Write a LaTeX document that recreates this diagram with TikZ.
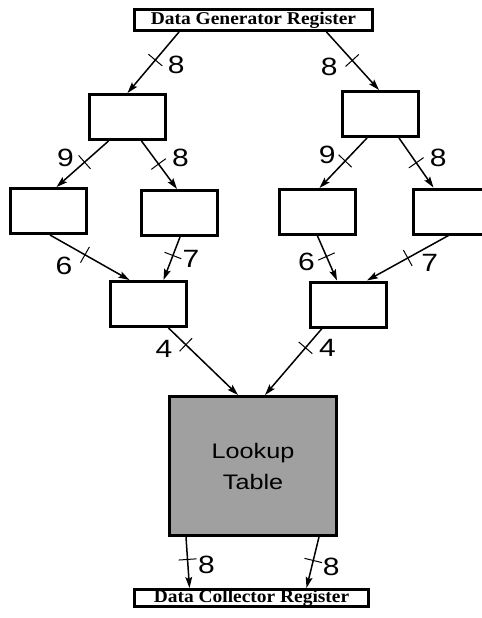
\documentclass[tikz,border=0pt]{standalone}
\usepackage{fontspec}
\setmainfont{Liberation Sans}[FakeStretch=1.2]
\newfontfamily\regfont{Liberation Serif}[FakeStretch=1.08]
\usepackage{xcolor}
\usepackage{tikz}
\usetikzlibrary{calc, arrows.meta, decorations.markings}

\definecolor{lutgray}{RGB}{160,160,160}

\begin{document}
\begin{tikzpicture}[x = 0.5pt, y = -0.5pt,
		blk/.style = {draw, line width = 1.5pt, minimum width = 38pt, minimum height = 22.5pt, inner sep = 0pt},
		reg/.style = {blk, minimum width = 119pt, minimum height = 10.5pt, font = \regfont\bfseries\fontsize{9}{10}\selectfont},
		wire/.style = {line width = 0.75pt, -{Stealth[length = 5.5pt, width = 3.4pt, inset = 1pt]}},
		bus/.style = {wire, postaction = {decorate, decoration = {markings, mark = at position #1 with {\draw [-, line width = 0.5pt] (0,-9) -- (0,9);}}}},
		wid/.style = {pos = #1, inner sep = 0pt, font = \fontsize{12.5}{15}\selectfont}]
		\useasboundingbox (0,0) rectangle (482,618);
		
		% registers at top and bottom
		\node [reg] (gen) at (253.5,20) {Data Generator Register};
		\node [reg, minimum width = 117pt, minimum height = 8.5pt] (col) at (251.5,598) {Data Collector Register};
		
		% splitting stages
		\node [blk] (a1) at (127.5,117) {};
		\node [blk] (a2) at (381,114) {};
		\node [blk] (b1) at (48.5,211) {};
		\node [blk] (b2) at (180,213) {};
		\node [blk] (b3) at (317.5,212) {};
		\node [blk] (b4) at (451.5,211.5) {};
		\node [blk] (c1) at (148.5,304) {};
		\node [blk] (c2) at (349,304.5) {};
		
		\node [blk, fill = lutgray, minimum width = 83.5pt, minimum height = 69.5pt, align = center,
			font = \fontsize{10.5}{15.5}\selectfont] (lut) at (253,466) {Lookup\\Table};
		
		% buses with their widths
		\draw [bus = .46] ([shift = {(-74.5,0)}]gen.south) -- node [wid = .46, shift = {(21,5)}] (w1) {8} (a1.north);
		\draw [bus = .49] ([shift = {(73,0)}]gen.south) -- node [wid = .49, shift = {(-23,6)}] (w2) {8} ([shift = {(-2,0)}]a2.north);
		
		\draw [bus = .46] ([shift = {(-19,0)}]a1.south) -- node [wid = .46, shift = {(-19,-4)}] (w3) {9} ([shift = {(8,0)}]b1.north);
		\draw [bus = .48] ([shift = {(14,0)}]a1.south) -- node [wid = .48, shift = {(22,-6)}] (w4) {8} ([shift = {(-3,0)}]b2.north);
		\draw [bus = .46] ([shift = {(-14,0)}]a2.south) -- node [wid = .46, shift = {(-18,-6)}] (w5) {9} ([shift = {(2,0)}]b3.north);
		\draw [bus = .5] ([shift = {(18,0)}]a2.south) -- node [wid = .5, shift = {(22,-5)}] (w6) {8} ([shift = {(-18,0)}]b4.north);
		
		\draw [bus = .44] ([shift = {(1.5,0)}]b1.south) -- node [wid = .44, shift = {(-21,11)}] (w7) {6} ([shift = {(-19,0)}]c1.north);
		\draw [bus = .43] (b2.south) -- node [wid = .43, shift = {(18,3)}] (w8) {7} ([shift = {(15,0)}]c1.north);
		\draw [bus = .46] (b3.south) -- node [wid = .46, shift = {(-20,5)}] (w9) {6} ([shift = {(-12,0)}]c2.north);
		\draw [bus = .5] ([shift = {(-3,0)}]b4.south) -- node [wid = .5, shift = {(22,5)}] (w10) {7} ([shift = {(18,0)}]c2.north);
		
		\draw [bus = .25] ([shift = {(20,0)}]c1.south) -- node [wid = .25, shift = {(-22,4)}] (w11) {4} ([shift = {(-15,0)}]lut.north);
		\draw [bus = .29] ([shift = {(-27,0)}]c2.south) -- node [wid = .29, shift = {(22,0)}] (w12) {4} ([shift = {(12,0)}]lut.north);
		
		\draw [bus = .44] ([shift = {(-67,0)}]lut.south) -- node [wid = .44, shift = {(19,5)}] (w13) {8} ([shift = {(-62,0)}]col.north);
		\draw [bus = .46] ([shift = {(66,0)}]lut.south) -- node [wid = .46, shift = {(18,6)}] (w14) {8} ([shift = {(55,0)}]col.north);
	\end{tikzpicture}
\end{document}
